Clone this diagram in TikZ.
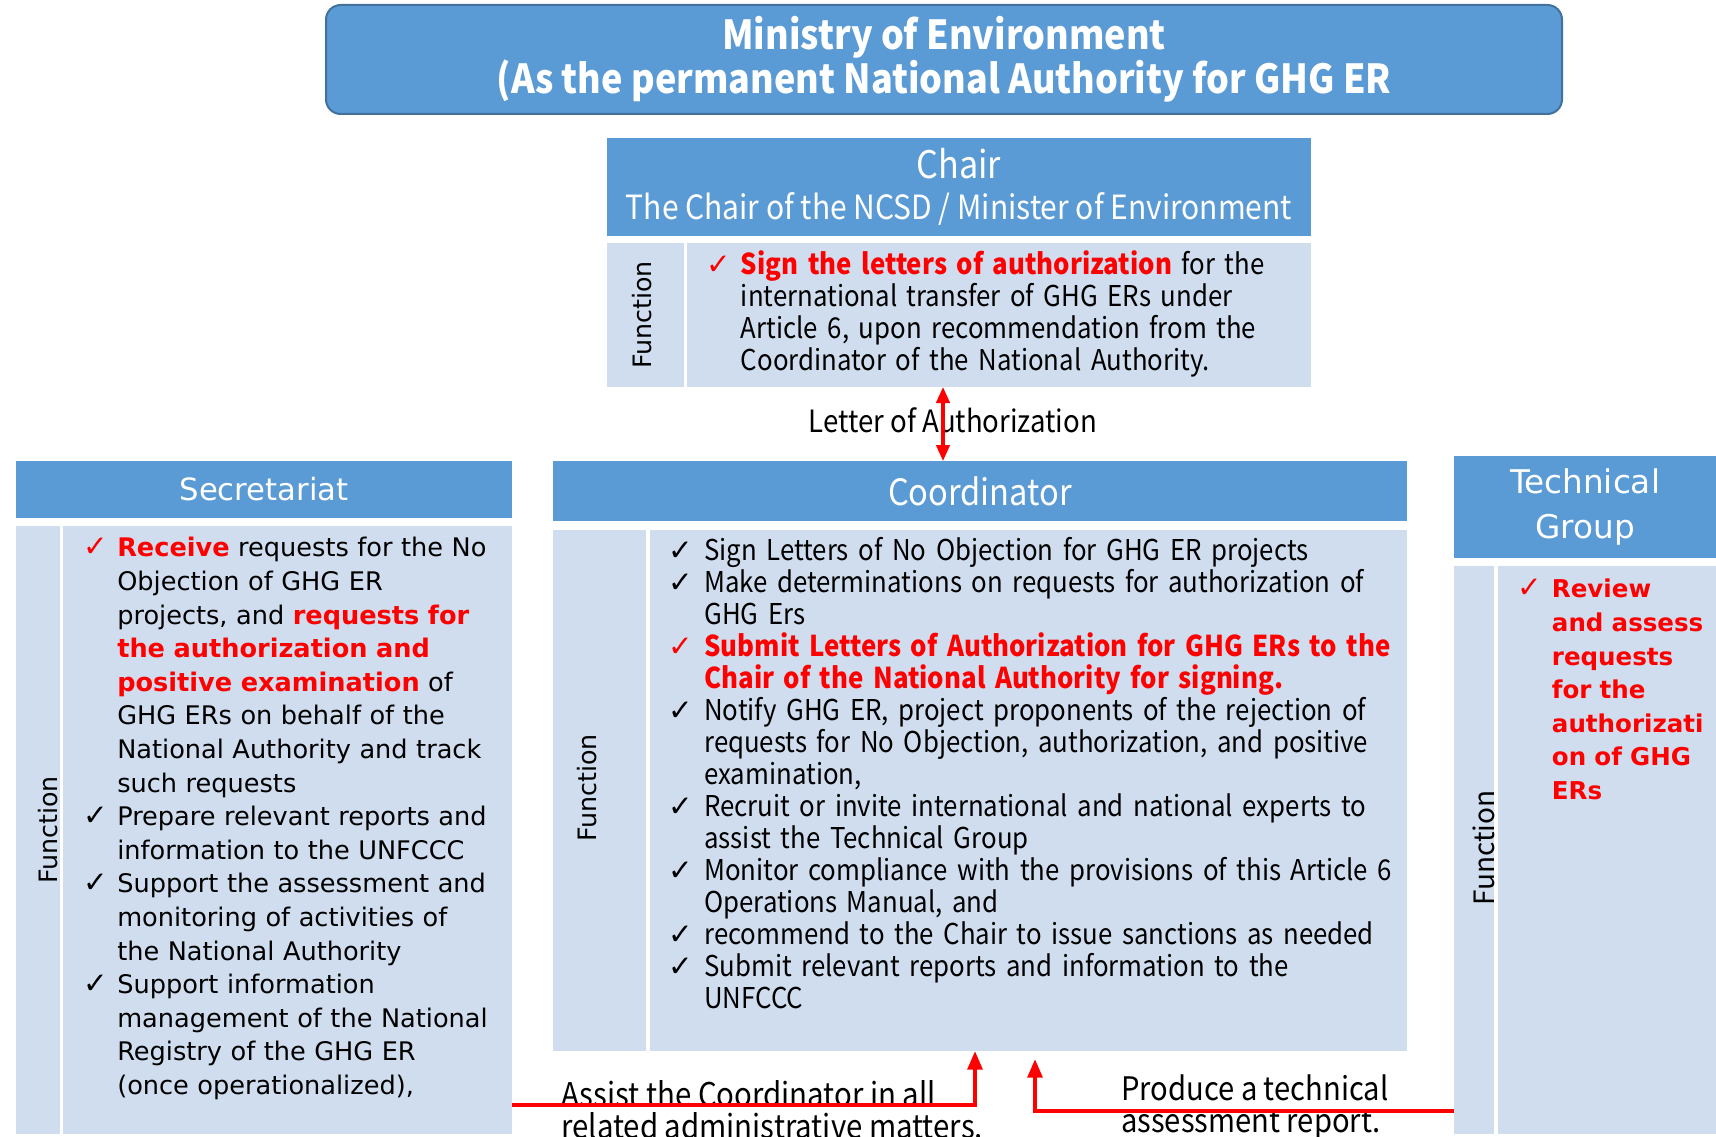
\documentclass[tikz,border=0pt]{standalone}
\usepackage{fontspec}
\usetikzlibrary{arrows.meta}
\setmainfont{Noto Sans CJK JP}
\newfontfamily\narrowfont[FakeStretch=0.9]{Noto Sans CJK JP}
\newfontfamily\widefont{DejaVu Sans}
\newfontfamily\symfont{DejaVu Sans}

\definecolor{hdrblue}{RGB}{91,155,213}
\definecolor{paneblue}{RGB}{207,221,238}
\definecolor{edgeblue}{RGB}{65,113,156}
\definecolor{alertred}{RGB}{255,0,0}

\newlength{\tickw}
\newcommand{\chk}[1][black]{\par\noindent\hangindent=\tickw\hangafter=1\makebox[\tickw][l]{\symfont\fontsize{22}{22}\selectfont\color{#1}✓}}
\newcommand{\redbold}[1]{{\color{alertred}\bfseries #1}}

\tikzset{
  hdr/.style={fill=hdrblue, text=white, inner sep=0pt, outer sep=0pt, anchor=north west, align=center},
  pane/.style={fill=paneblue, inner sep=0pt, outer sep=0pt, anchor=north west},
  fnlabel/.style={rotate=90, inner sep=0pt, font=\widefont\fontsize{19}{22}\selectfont},
  items/.style={anchor=north west, inner sep=0pt, align=left},
  redlink/.style={draw=alertred, line width=3pt, -{Triangle[length=14pt,width=11pt]}},
}

\begin{document}
\begin{tikzpicture}[x=0.75pt,y=0.75pt,yscale=-1,xscale=1]
\useasboundingbox (0,0) rectangle (1716,1137);

% ministry
\node[hdr, draw=edgeblue, line width=1.5pt, rounded corners=11pt, minimum width=927pt, minimum height=81.75pt, font=\narrowfont\fontsize{30}{33}\selectfont\bfseries] (ministry) at (326,5) {Ministry of Environment\\(As the permanent National Authority for GHG ER};

% chair
\node[hdr, minimum width=528pt, minimum height=73.5pt, font=\narrowfont\fontsize{25}{31}\selectfont] (chairhdr) at (607,138) {{\fontsize{28.5}{32}\selectfont Chair}\\The Chair of the NCSD / Minister of Environment};
\node[pane, minimum width=57.75pt, minimum height=108pt] (chairfn) at (607,243) {};
\node[pane, minimum width=468pt, minimum height=108pt] (chairtxt) at (687,243) {};
\node[fnlabel] (chairfnlbl) at (642,315) {Function};
\node[items, text width=450pt, font=\narrowfont\fontsize{21.5}{24}\selectfont] (chairitems) at (706,242) {\setlength{\tickw}{26pt}%
\chk[alertred]\redbold{Sign the letters of authorization} for the\newline international transfer of GHG ERs under\newline Article 6, upon recommendation from the\newline Coordinator of the National Authority.\par};

% secretariat
\node[hdr, minimum width=372pt, minimum height=42.75pt, font=\widefont\fontsize{23}{28}\selectfont] (sechdr) at (16,461) {Secretariat};
\node[pane, minimum width=33pt, minimum height=456pt] (secfn) at (16,526) {};
\node[pane, minimum width=336.75pt, minimum height=456pt] (sectxt) at (63,526) {};
\node[fnlabel] (secfnlbl) at (48,830) {Function};
\node[items, text width=325pt, font=\widefont\fontsize{19.2}{25.2}\selectfont] (secitems) at (83,523) {\setlength{\tickw}{25.5pt}%
\chk[alertred]\redbold{Receive} requests for the No\newline Objection of GHG ER\newline projects, and \redbold{requests for}\newline \redbold{the authorization and}\newline \redbold{positive examination} of\newline GHG ERs on behalf of the\newline National Authority and track\newline such requests
\chk Prepare relevant reports and\newline information to the UNFCCC
\chk Support the assessment and\newline monitoring of activities of\newline the National Authority
\chk Support information\newline management of the National\newline Registry of the GHG ER\newline (once operationalized),\par};

% coordinator
\node[hdr, minimum width=640.5pt, minimum height=45pt, font=\narrowfont\fontsize{27.2}{31}\selectfont] (coordhdr) at (553,461) {Coordinator};
\node[pane, minimum width=69.75pt, minimum height=390.75pt] (coordfn) at (553,530) {};
\node[pane, minimum width=567.75pt, minimum height=390.75pt] (coordtxt) at (650,530) {};
\node[fnlabel] (coordfnlbl) at (587,788) {Function};
\node[items, text width=555pt, font=\narrowfont\fontsize{21.5}{24}\selectfont] (coorditems) at (668,528) {\setlength{\tickw}{27pt}%
\chk Sign Letters of No Objection for GHG ER projects
\chk Make determinations on requests for authorization of\newline GHG Ers
\chk[alertred]\redbold{Submit Letters of Authorization for GHG ERs to the\newline Chair of the National Authority for signing.}
\chk Notify GHG ER, project proponents of the rejection of\newline requests for No Objection, authorization, and positive\newline examination,
\chk Recruit or invite international and national experts to\newline assist the Technical Group
\chk Monitor compliance with the provisions of this Article 6\newline Operations Manual, and
\chk recommend to the Chair to issue sanctions as needed
\chk Submit relevant reports and information to the\newline UNFCCC\par};

% technical group
\node[hdr, minimum width=196.5pt, minimum height=76.5pt, font=\widefont\fontsize{24.5}{34}\selectfont] (techhdr) at (1454,456) {Technical\\Group};
\node[pane, minimum width=30pt, minimum height=426pt] (techfn) at (1454,566) {};
\node[pane, minimum width=163.5pt, minimum height=426pt] (techtxt) at (1498,566) {};
\node[fnlabel, font=\fontsize{21}{24}\selectfont] (techfnlbl) at (1484,848) {Function};
\node[items, text width=150pt, font=\widefont\fontsize{18.4}{25.2}\selectfont] (techitems) at (1517,564) {\setlength{\tickw}{26pt}%
\chk[alertred]\redbold{Review\newline and assess\newline requests\newline for the\newline authorizati\newline on of GHG\newline ERs}\par};

% links
\node[anchor=center, inner sep=0pt, font=\narrowfont\fontsize{23}{26}\selectfont] (lettxt) at (953,420) {Letter of Authorization};
\coordinate (letcol) at (943,0);
\draw[draw=alertred, line width=2.5pt, {Triangle[length=12pt,width=10pt]}-{Triangle[length=12pt,width=10pt]}] (chairtxt.south -| letcol) -- (coordhdr.north -| letcol);

\node[items, font=\narrowfont\fontsize{24.5}{24}\selectfont] (assisttxt) at (561,1080) {Assist the Coordinator in all\\related administrative matters.};
\node[items, font=\narrowfont\fontsize{24.3}{24}\selectfont] (reporttxt) at (1121,1074) {Produce a technical\\assessment report.};

\coordinate (assistrow) at (0,1105);
\coordinate (assistcol) at (975,0);
\coordinate (reportrow) at (0,1111);
\coordinate (reportcol) at (1035,0);
\draw[redlink] (sectxt.east |- assistrow) -- (assistcol |- assistrow) -- (coordtxt.south -| assistcol);
\draw[redlink, shorten >=6pt] (techfn.west |- reportrow) -- (reportcol |- reportrow) -- (coordtxt.south -| reportcol);
\end{tikzpicture}
\end{document}
